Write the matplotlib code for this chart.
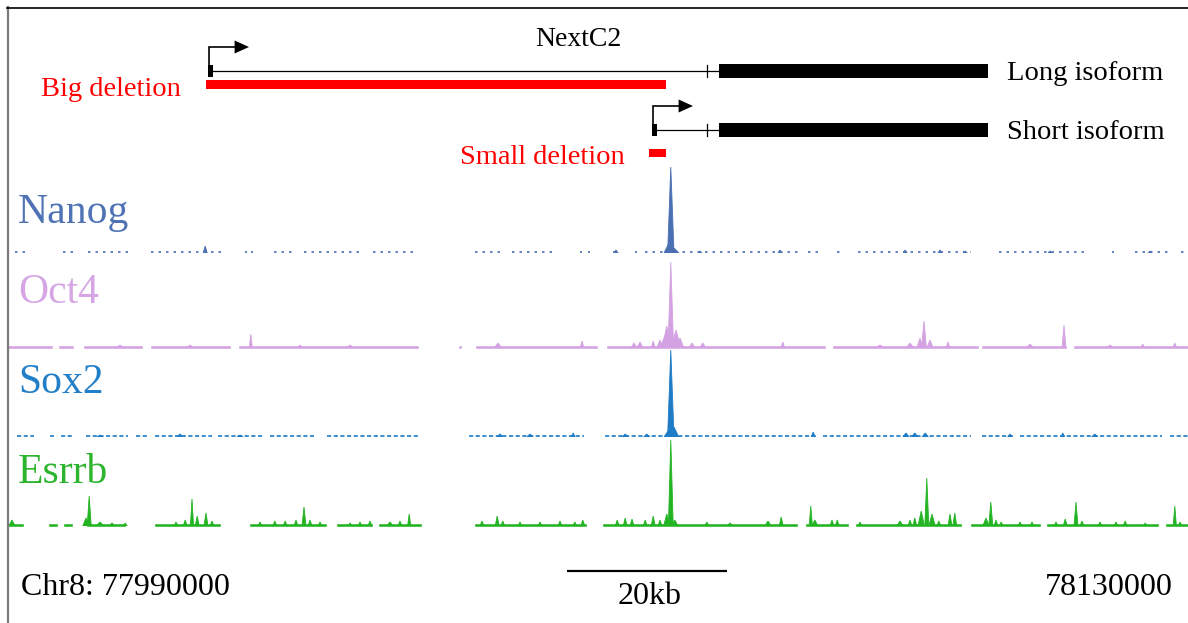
import matplotlib
matplotlib.use("Agg")
import matplotlib.pyplot as plt
from matplotlib.patches import Rectangle, Polygon
from matplotlib.lines import Line2D

# ---------------- data (genomic positions in kb relative to REGION_START) ----------------
REGION_START = 77990000
REGION_END_LABEL = 78130000
CHROM = "Chr8"
SCALEBAR_KB = 20
SCALEBAR_START_KB = 69.6

gene_name = "NextC2"
isoform_names = ["Long isoform", "Short isoform"]
isoform_tss_kb = [24.875, 80.375]
small_exon_kb = 87.125
big_exon_start_kb = 88.625
big_exon_end_kb = 122.25

deletion_names = ["Big deletion", "Small deletion"]
deletion_start_kb = [24.5, 79.875]
deletion_end_kb = [82.0, 82.0]

track_names = ["Nanog", "Oct4", "Sox2", "Esrrb"]

nanog_segments = [(0.6, 2.4), (6.6, 7.9), (9.8, 15.0), (17.6, 26.5), (29.4, 29.6), (30.1, 30.4),
                  (33.0, 35.6), (36.8, 44.3), (45.4, 50.9), (58.1, 61.3), (62.8, 68.4), (71.3, 71.5),
                  (72.3, 72.5), (75.4, 76.0), (78.1, 78.4), (79.4, 99.0), (99.8, 101.0), (103.4, 104.1),
                  (106.0, 120.1), (123.6, 134.4), (137.8, 138.0), (140.6, 145.0), (146.4, 147.3)]
nanog_peak_pos = [24.4, 75.75, 82.6, 82.25, 83.0, 86.25, 96.25, 111.9, 116.25, 119.4, 130.0, 142.5]
nanog_peak_height = [7, 3, 86, 8, 5, 2, 3, 3, 3, 2, 2, 2]
nanog_peak_halfwidth = [0.25, 0.25, 0.4, 0.5, 0.6, 0.25, 0.25, 0.25, 0.25, 0.25, 0.25, 0.25]

oct4_segments = [(-0.25, 5.25), (6.1, 7.9), (9.25, 16.5), (17.6, 27.5), (28.6, 51.0), (56.1, 56.4),
                 (58.25, 73.4), (74.6, 101.9), (102.9, 121.0), (121.5, 132.0), (133.0, 147.3)]
oct4_peak_pos = [30.1, 82.6, 82.1, 83.25, 81.75, 83.75, 114.25, 113.75, 115.0, 131.75, 61.0, 71.5,
                 78.0, 78.75, 80.4, 81.25, 85.25, 86.6, 96.6, 112.5, 117.25, 127.5, 141.6, 145.6,
                 13.75, 22.5, 36.25, 42.5, 108.75, 137.5]
oct4_peak_height = [14, 86, 22, 18, 10, 10, 27, 10, 8, 23, 5, 7,
                    5, 6, 7, 8, 5, 5, 6, 5, 6, 4, 4, 5,
                    3, 3, 3, 3, 3, 3]
oct4_peak_halfwidth = [0.2, 0.35, 0.6, 0.6, 0.5, 0.5, 0.3, 0.4, 0.4, 0.25, 0.5, 0.25,
                       0.4, 0.4, 0.25, 0.4, 0.4, 0.4, 0.25, 0.5, 0.25, 0.5, 0.25, 0.25,
                       0.5, 0.5, 0.4, 0.5, 0.6, 0.5]

sox2_segments = [(0.9, 3.0), (5.0, 5.5), (6.4, 7.9), (9.5, 14.75), (15.75, 17.1), (18.1, 25.25),
                 (26.0, 31.75), (32.5, 38.0), (39.6, 51.1), (57.4, 71.75), (74.4, 101.0),
                 (101.6, 120.1), (121.5, 125.4), (126.25, 144.0), (145.0, 147.3)]
sox2_peak_pos = [82.6, 82.25, 83.0, 79.6, 76.9, 100.4, 112.0, 113.1, 114.4, 131.6, 70.4, 125.0,
                 135.6, 11.25, 21.25, 28.75, 61.25, 65.0]
sox2_peak_height = [87, 6, 10, 3, 3, 5, 4, 4, 4, 4, 4, 3, 3, 2, 3, 2, 3, 3]
sox2_peak_halfwidth = [0.4, 0.5, 0.6, 0.4, 0.4, 0.25, 0.4, 0.4, 0.4, 0.25, 0.25, 0.3,
                       0.4, 0.4, 0.4, 0.4, 0.4, 0.4]

esrrb_segments = [(-0.25, 1.6), (4.9, 5.9), (6.75, 7.75), (9.6, 14.4), (18.1, 26.25), (30.0, 39.5),
                  (40.9, 45.25), (46.1, 51.4), (58.1, 72.0), (74.1, 98.4), (99.5, 104.75),
                  (105.75, 118.9), (120.1, 128.75), (129.6, 143.5), (144.5, 147.3)]
esrrb_peak_pos = [0.25, 9.5, 9.9, 11.25, 12.75, 14.4, 20.75, 21.9, 22.75, 23.4, 24.5, 25.25,
                  31.25, 33.1, 34.4, 35.75, 36.75, 37.5, 38.75, 42.5, 43.75, 45.0, 47.5, 48.75,
                  49.9, 59.0, 60.9, 61.6, 63.75, 66.25, 68.75, 70.6, 71.6, 75.9, 76.9, 77.75,
                  79.4, 80.4, 81.25, 82.6, 82.1, 83.1, 87.1, 90.0, 94.75, 96.4, 100.1, 100.6,
                  102.75, 103.4, 106.25, 111.25, 112.5, 113.1, 113.9, 114.6, 115.25, 116.1,
                  117.5, 118.1, 122.0, 122.6, 123.25, 123.9, 126.25, 127.75, 130.75, 131.9,
                  133.25, 134.0, 136.25, 138.25, 139.4, 141.9, 145.6, 146.25]
esrrb_peak_height = [6, 8, 30, 4, 3, 3, 4, 6, 27, 10, 13, 5,
                     4, 5, 5, 6, 19, 6, 4, 3, 4, 5, 4, 5,
                     12, 5, 10, 5, 4, 4, 5, 4, 6, 6, 8, 7,
                     6, 10, 6, 86, 12, 6, 4, 3, 5, 9, 20, 6,
                     6, 6, 4, 5, 6, 8, 15, 48, 12, 5,
                     12, 13, 8, 24, 6, 4, 4, 4, 4, 7,
                     24, 5, 4, 4, 5, 3, 20, 4]
esrrb_peak_halfwidth = [0.4, 0.4, 0.25, 0.5, 0.4, 0.25, 0.25, 0.25, 0.2, 0.25, 0.25, 0.25,
                        0.25, 0.25, 0.25, 0.25, 0.25, 0.25, 0.25, 0.25, 0.25, 0.25, 0.4, 0.25,
                        0.2, 0.25, 0.25, 0.25, 0.25, 0.25, 0.25, 0.25, 0.25, 0.25, 0.25, 0.25,
                        0.25, 0.25, 0.25, 0.3, 0.4, 0.4, 0.25, 0.4, 0.4, 0.25, 0.2, 0.4,
                        0.25, 0.25, 0.25, 0.4, 0.25, 0.25, 0.4, 0.25, 0.4, 0.25,
                        0.25, 0.25, 0.4, 0.25, 0.25, 0.25, 0.25, 0.25, 0.25, 0.25,
                        0.25, 0.25, 0.25, 0.25, 0.25, 0.25, 0.2, 0.25]

# ---------------- styling / layout ----------------
W, H, DPI = 1188, 623, 100
PX_PER_KB = 8
X0_PX = 10
XLIM = (-X0_PX / PX_PER_KB, (W - X0_PX) / PX_PER_KB)
SERIF = ['Liberation Serif', 'DejaVu Serif']
RED = '#FF0000'

track_colors = ['#4A6FB2', '#D4A2E2', '#1E7CC6', '#22B422']
label_colors = ['#4F73B4', '#D6A6E4', '#2380C8', '#2DB42D']
track_baseline_px = [253, 348, 437, 526]
label_baseline_px = [223, 303, 393, 483]
baseline_level = [1.6, 2.0, 1.6, 2.0]
baseline_dash = [(0, (1.5, 3)), None, (0, (2.5, 1.5)), None]
TRACK_H = 92

fig = plt.figure(figsize=(W / DPI, H / DPI), dpi=DPI)
fig.patch.set_facecolor('white')


def fx(px):
    return px / W


def fy(py):
    return 1 - py / H


ax = fig.add_axes([0, 0, 1, 1])
ax.set_xlim(*XLIM)
ax.set_ylim(H, 0)
ax.set_axis_off()
ax.patch.set_facecolor('none')

# border
fig.add_artist(Line2D([fx(7.5), fx(7.5)], [fy(7), fy(H)], color='#7a7a7a', lw=1.6))
fig.add_artist(Line2D([fx(7), fx(W)], [fy(7.5), fy(7.5)], color='black', lw=1.2))

# ---------------- gene model ----------------
iso_y = [71, 130]
for tss, y in zip(isoform_tss_kb, iso_y):
    ax.plot([tss, big_exon_start_kb], [y, y], color='black', lw=0.9, solid_capstyle='butt')
    ax.add_patch(Rectangle((tss - 0.1, y - 6), 0.55, 12, color='black', lw=0))
    ax.plot([small_exon_kb, small_exon_kb], [y - 6, y + 6], color='black', lw=0.9)
    ax.add_patch(Rectangle((big_exon_start_kb, y - 7), big_exon_end_kb - big_exon_start_kb, 14,
                           color='black', lw=0))
    # TSS arrow
    ay = y - 24
    ax.plot([tss + 0.06, tss + 0.06, tss + 3.2], [y, ay, ay], color='black', lw=1.2,
            solid_joinstyle='miter')
    ax.add_patch(Polygon([(tss + 3.2, ay - 6.5), (tss + 3.2, ay + 6.5), (tss + 5.0, ay)],
                         closed=True, color='black', lw=0))

del_y = [84.5, 153]
del_h = [9, 8]
for s, e, y, h in zip(deletion_start_kb, deletion_end_kb, del_y, del_h):
    ax.add_patch(Rectangle((s, y - h / 2), e - s, h, color=RED, lw=0))

fig.text(fx(578), fy(45.5), gene_name, family=SERIF, size=20, ha='center', va='baseline')
fig.text(fx(41), fy(95.5), deletion_names[0], family=SERIF, size=20.5, color=RED, va='baseline')
fig.text(fx(460), fy(164), deletion_names[1], family=SERIF, size=20.5, color=RED, va='baseline')
fig.text(fx(1007), fy(80.5), isoform_names[0], family=SERIF, size=20.5, va='baseline')
fig.text(fx(1007), fy(139), isoform_names[1], family=SERIF, size=20.5, va='baseline')

# ---------------- signal tracks ----------------
tracks = [
    (nanog_segments, nanog_peak_pos, nanog_peak_height, nanog_peak_halfwidth),
    (oct4_segments, oct4_peak_pos, oct4_peak_height, oct4_peak_halfwidth),
    (sox2_segments, sox2_peak_pos, sox2_peak_height, sox2_peak_halfwidth),
    (esrrb_segments, esrrb_peak_pos, esrrb_peak_height, esrrb_peak_halfwidth),
]

for i, (segs, ppos, phgt, phw) in enumerate(tracks):
    base = track_baseline_px[i]
    col = track_colors[i]
    tax = fig.add_axes([0, (H - base) / H, 1, TRACK_H / H])
    tax.set_xlim(*XLIM)
    tax.set_ylim(0, TRACK_H)
    tax.set_axis_off()
    tax.patch.set_facecolor('none')
    lvl = baseline_level[i]
    for s, e in segs:
        if baseline_dash[i] is not None:
            tax.plot([s, e], [lvl / 2, lvl / 2], color=col, lw=lvl * 0.75,
                     linestyle=baseline_dash[i], solid_capstyle='butt')
        else:
            tax.fill_between([s, e], 0, lvl, color=col, lw=0.4)
    for c, h, w in zip(ppos, phgt, phw):
        tax.fill([c - w, c, c + w], [0, h, 0], color=col, lw=0.6)
    fig.text(fx(18), fy(label_baseline_px[i]), track_names[i], family=SERIF, size=30,
             color=label_colors[i], va='baseline')

# ---------------- coordinates & scale bar ----------------
ax.plot([SCALEBAR_START_KB, SCALEBAR_START_KB + SCALEBAR_KB], [571, 571], color='black', lw=1.6,
        solid_capstyle='butt')
fig.text(fx(21), fy(595), f"{CHROM}: {REGION_START}", family=SERIF, size=23, va='baseline')
fig.text(fx(1173), fy(595), f"{REGION_END_LABEL}", family=SERIF, size=23, va='baseline', ha='right')
fig.text(fx(649.5), fy(604), f"{SCALEBAR_KB}kb", family=SERIF, size=23, va='baseline', ha='center')

fig.savefig('out.png', dpi=DPI, facecolor='white')
